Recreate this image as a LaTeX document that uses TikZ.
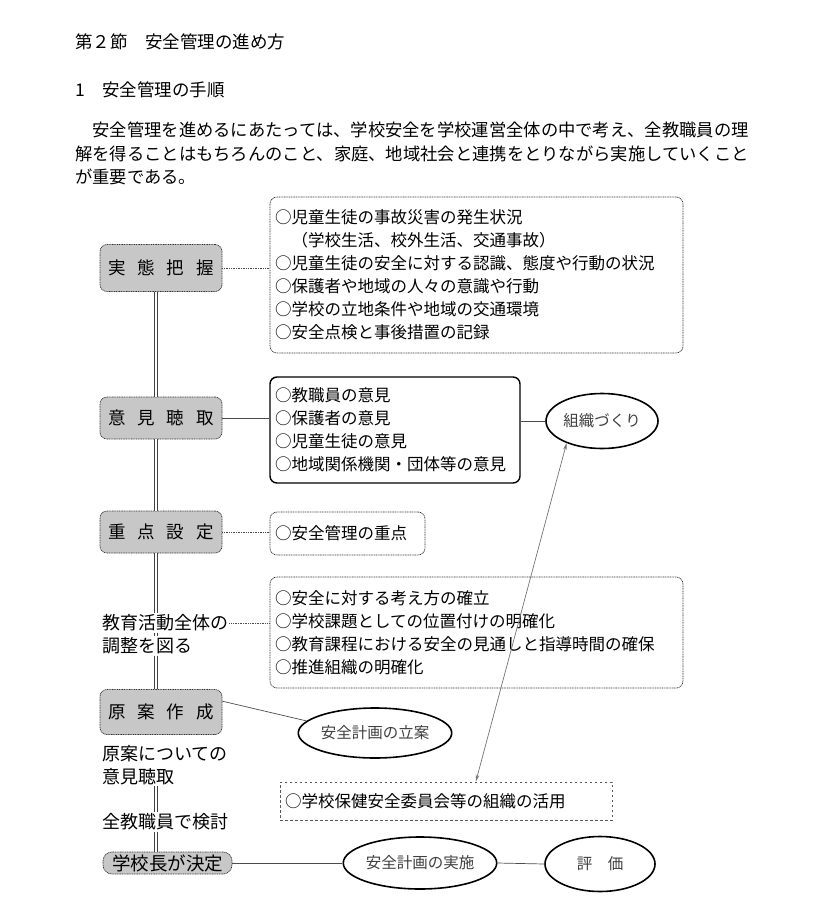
\documentclass[tikz,border=0pt]{standalone}
\usepackage{fontspec}
\setmainfont{Noto Sans CJK JP}
\usetikzlibrary{shapes,arrows.meta}

\newcommand{\ksp}{\hspace{12pt}}

\begin{document}
\begin{tikzpicture}[x=1pt,y=-1pt]

\def\boxtext{\fontsize{16.5}{23}\selectfont}
\def\lefttext{\fontsize{18}{23}\selectfont}

\tikzstyle{stage}=[rectangle,rounded corners=7pt,fill=black!22,draw=black!80,line width=0.7pt,dash pattern=on 1pt off 0.7pt,minimum width=122pt,font=\fontsize{17.5}{20}\selectfont]
\tikzstyle{itembox}=[rectangle,rounded corners=7pt,draw=black!80,line width=0.7pt,dash pattern=on 1pt off 0.7pt,align=left,inner xsep=5pt,font=\boxtext]
\tikzstyle{keybox}=[itembox,solid,draw=black,line width=1.4pt]
\tikzstyle{goal}=[ellipse,draw=black,line width=1.6pt,fill=white,inner sep=0pt,text=black!75,font=\fontsize{15.5}{18}\selectfont]
\tikzstyle{note}=[align=left,inner sep=1pt,font=\lefttext]
\tikzstyle{link}=[draw=black!70,line width=0.7pt]
\tikzstyle{dotlink}=[link,dash pattern=on 1pt off 0.7pt]
\tikzstyle{rail}=[draw=black!75,line width=0.8pt,double=white,double distance=1.6pt]

\useasboundingbox (0,0) rectangle (816,921);

%Headings
\node[anchor=west,inner sep=0pt,font=\fontsize{17.5}{20}\selectfont] (section) at (75,42) {第２節　安全管理の進め方};
\node[anchor=west,inner sep=0pt,font=\fontsize{17.5}{20}\selectfont] (subsection) at (75,90) {1　安全管理の手順};
\node[anchor=north west,align=left,inner sep=0pt,font=\fontsize{17.3}{23.5}\selectfont] (intro) at (75,122)
  {　安全管理を進めるにあたっては、学校安全を学校運営全体の中で考え、全教職員の理\\
   解を得ることはもちろんのこと、家庭、地域社会と連携をとりながら実施していくこと\\
   が重要である。};

%left column
\node[stage,minimum height=47pt] (survey)  at (161,268) {実\ksp 態\ksp 把\ksp 握};
\node[stage,minimum height=42pt] (hearing) at (161,418) {意\ksp 見\ksp 聴\ksp 取};
\node[stage,minimum height=42pt] (focus)   at (161,532) {重\ksp 点\ksp 設\ksp 定};
\node[note,anchor=west] (adjustA) at (101,623) {教育活動全体の};
\node[note,anchor=west] (adjustB) at (101,646) {調整を図る};
\node[stage,minimum height=45pt] (draft)   at (161,712) {原\ksp 案\ksp 作\ksp 成};
\node[note,anchor=north west] (review) at (101,744) {原案についての\\意見聴取};
\node[note,anchor=west] (staff) at (101,822) {全教職員で検討};
\node[stage,rounded corners=9pt,minimum width=129pt,minimum height=22pt,inner sep=1pt,font=\fontsize{18.5}{20}\selectfont] (decide) at (167.5,863) {学校長が決定};
\coordinate (spineAxis) at (156,0);

%item boxes
\node[itembox,text width=403pt,minimum height=156pt] (surveyItems) at (476.5,275)
  {○児童生徒の事故災害の発生状況\\
   　（学校生活、校外生活、交通事故）\\
   ○児童生徒の安全に対する認識、態度や行動の状況\\
   ○保護者や地域の人々の意識や行動\\
   ○学校の立地条件や地域の交通環境\\
   ○安全点検と事後措置の記録};
\node[keybox,text width=240pt,minimum height=106pt] (hearingItems) at (395,430)
  {○教職員の意見\\
   ○保護者の意見\\
   ○児童生徒の意見\\
   ○地域関係機関・団体等の意見};
\node[itembox,text width=145pt,minimum height=43pt] (focusItems) at (347.5,533.5) {○安全管理の重点};
\node[itembox,text width=403pt,minimum height=111pt] (adjustItems) at (476.5,632.5)
  {○安全に対する考え方の確立\\
   ○学校課題としての位置付けの明確化\\
   ○教育課程における安全の見通しと指導時間の確保\\
   ○推進組織の明確化};
\node[itembox,dash pattern=on 2.5pt off 2.5pt,draw=black!65,rounded corners=0pt,text width=322pt,minimum height=38pt] (committee) at (446,801) {○学校保健安全委員会等の組織の活用};

%ellipses
\node[goal,minimum width=112pt,minimum height=55pt] (organize) at (602,421) {組織づくり};
\node[goal,minimum width=145pt,minimum height=50pt] (planning) at (375,733) {安全計画の立案};
\node[goal,minimum width=152pt,minimum height=52pt] (practice) at (420,863) {安全計画の実施};
\node[goal,minimum width=110pt,minimum height=55pt] (evaluate) at (600,864) {評　価};

% spine
\draw[rail] (survey.south -| spineAxis)  -- (hearing.north -| spineAxis);
\draw[rail] (hearing.south -| spineAxis) -- (focus.north -| spineAxis);
\draw[rail] (focus.south -| spineAxis)   -- (adjustA.north -| spineAxis);
\draw[rail] (adjustA.south -| spineAxis) -- (adjustB.north -| spineAxis);
\draw[rail] (adjustB.south -| spineAxis) -- (draft.north -| spineAxis);
\draw[rail] (review.south -| spineAxis)  -- (staff.north -| spineAxis);
\draw[rail] (staff.south -| spineAxis)   -- (decide.north -| spineAxis);

% connections
\draw[dotlink] (survey.east)  -- (survey.east -| surveyItems.west);
\draw[link]    (hearing.east) -- (hearing.east -| hearingItems.west);
\draw[link]    (organize.west -| hearingItems.east) -- (organize.west);
\draw[dotlink] (focus.east)   -- (focus.east -| focusItems.west);
\draw[dotlink] (adjustA.east) -- (adjustA.east -| adjustItems.west);
\draw[link]    (draft.10) -- (planning.170);
\draw[link,draw=black!55,{Stealth[length=7pt,width=3.5pt]}-{Stealth[length=7pt,width=3.5pt]}] (organize.212) -- (committee.33);
\draw[link]    (decide.east) -- (practice.west);
\draw[link]    (practice.east) -- (evaluate.west);

\end{tikzpicture}
\end{document}
